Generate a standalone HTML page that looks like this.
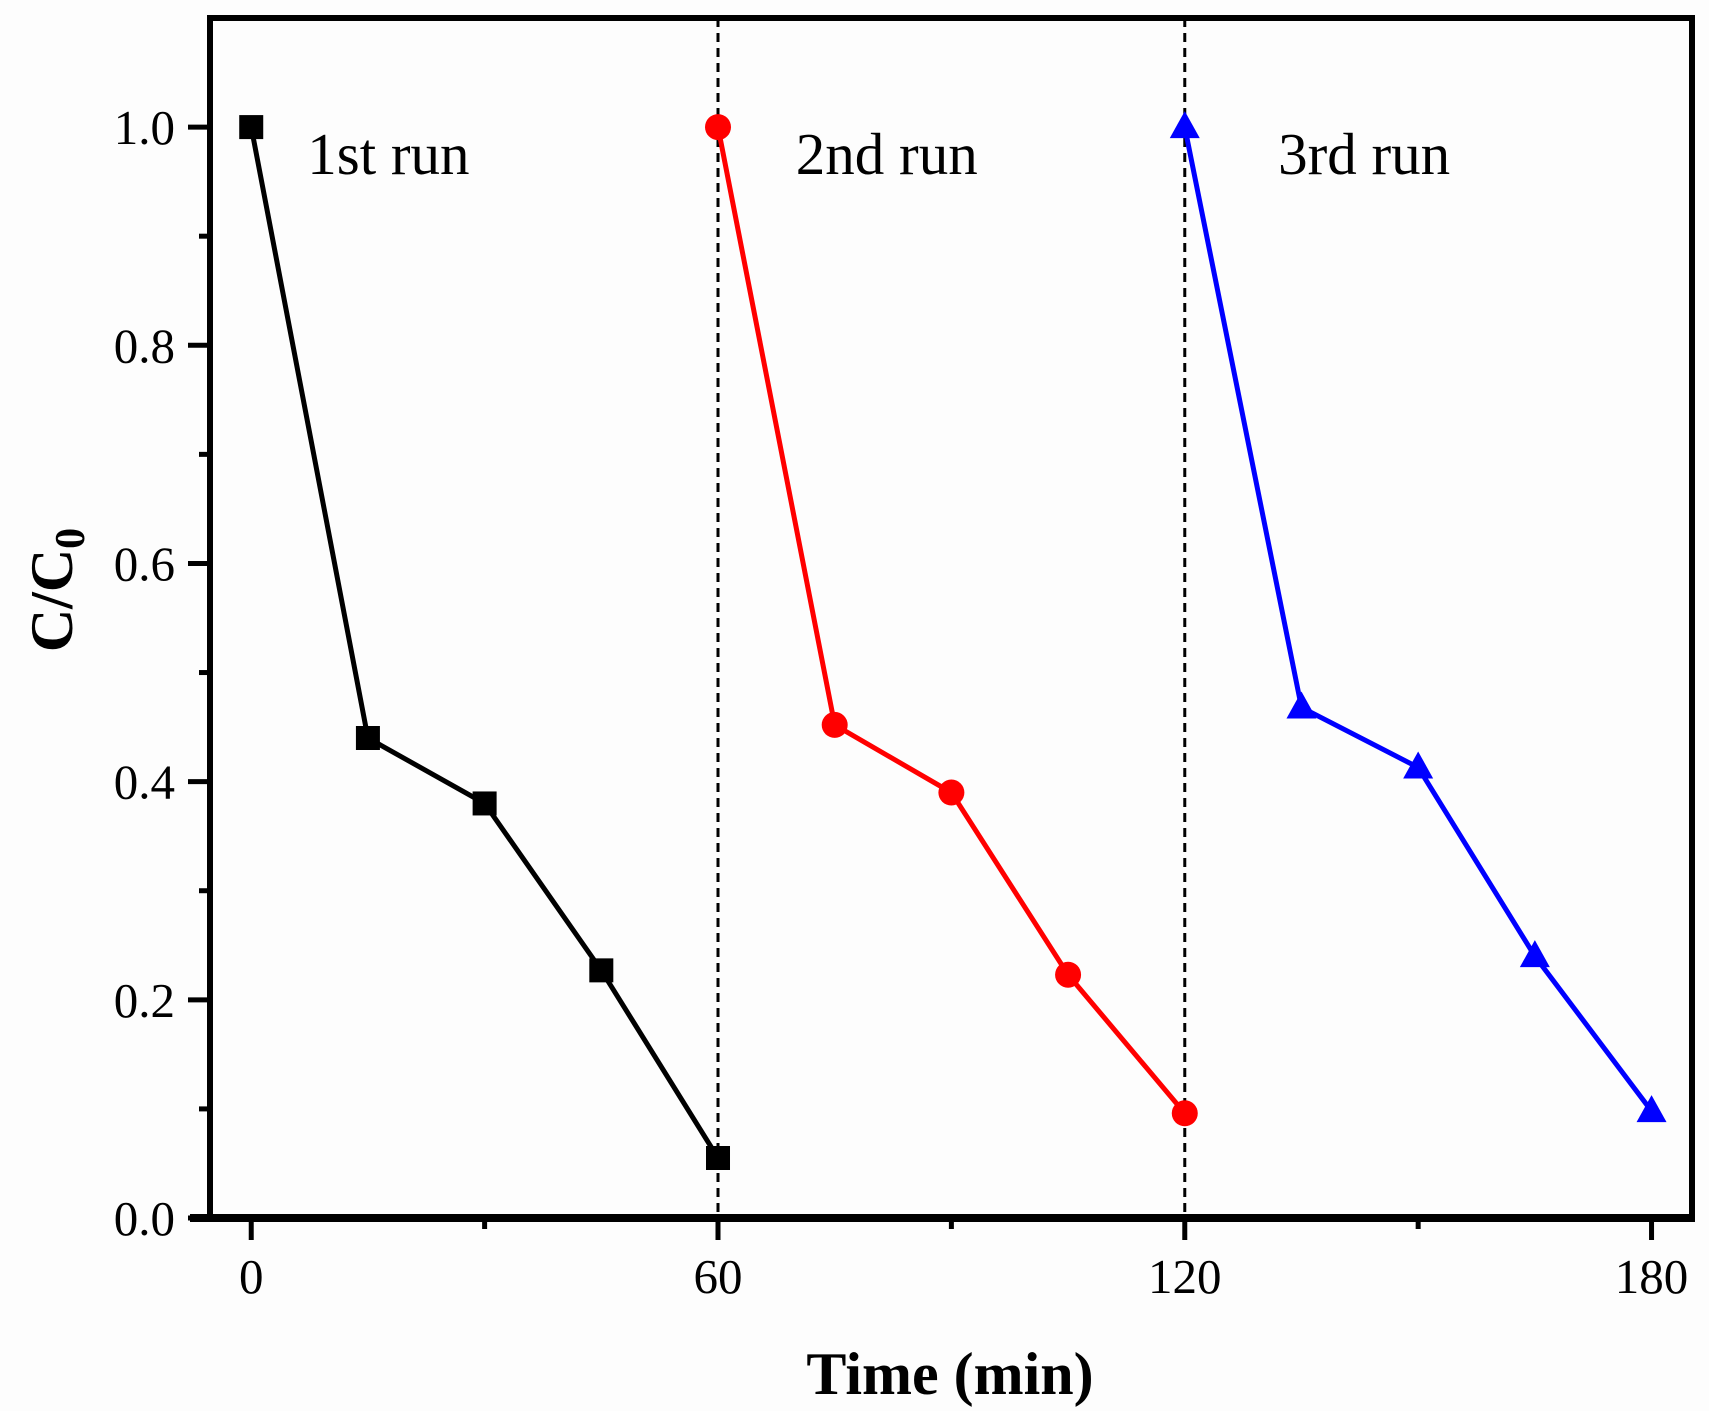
<!DOCTYPE html>
<html><head><meta charset="utf-8"><style>
html,body{margin:0;padding:0;background:#fdfdfd;}
svg{display:block;font-family:"Liberation Serif",serif;}
</style></head><body>
<svg id="chart" width="1709" height="1411" viewBox="0 0 1709 1411" xmlns="http://www.w3.org/2000/svg">
<rect x="0" y="0" width="1709" height="1411" fill="#fdfdfd"/>
<g id="plot"></g>
<text x="950" y="1394" font-size="60" font-weight="bold" text-anchor="middle">Time (min)</text>
<text transform="translate(72,590) rotate(-90)" font-size="60" font-weight="bold" text-anchor="middle">C/C<tspan dy="12" font-size="42">0</tspan></text>
</svg>
<script>
const xTicks = [0, 60, 120, 180];
const yTicks = [0.0, 0.2, 0.4, 0.6, 0.8, 1.0];
const yTickLabels = ["0.0", "0.2", "0.4", "0.6", "0.8", "1.0"];
const run1X = [0, 15, 30, 45, 60];
const run1Y = [1.0, 0.44, 0.38, 0.227, 0.055];
const run2X = [60, 75, 90, 105, 120];
const run2Y = [1.0, 0.452, 0.39, 0.223, 0.096];
const run3X = [120, 135, 150, 165, 180];
const run3Y = [1.0, 0.468, 0.413, 0.24, 0.098];
const runLabels = ["1st run", "2nd run", "3rd run"];
const runLabelX = [7.2, 70, 132];
const dividers = [60, 120];

const NS = "http://www.w3.org/2000/svg";
const L = 210, R = 1692, T = 18, B = 1218;
const xMin = -5.3, xMax = 185.2, yMin = 0, yMax = 1.1;
const sx = v => L + (v - xMin) / (xMax - xMin) * (R - L);
const sy = v => B - (v - yMin) / (yMax - yMin) * (B - T);
const g = document.getElementById('plot');
function mk(tag, attrs) {
  const e = document.createElementNS(NS, tag);
  for (const k in attrs) e.setAttribute(k, attrs[k]);
  g.appendChild(e);
  return e;
}
dividers.forEach(d => {
  const e = mk('line', {x1: sx(d), x2: sx(d), y1: T, y2: B, stroke: '#000', 'stroke-width': 3, 'stroke-dasharray': '9,6'});
  
  
});
const fr = mk('rect', {x: L, y: T, width: R - L, height: B - T, fill: 'none', stroke: '#000', 'stroke-width': 6});


const xa = mk('line', {x1: L - 20, x2: R + 3, y1: B, y2: B, stroke: '#000', 'stroke-width': 8});


for (let v = 0; v <= 180; v += 30) {
  const major = xTicks.includes(v);
  const t = mk('line', {x1: sx(v), x2: sx(v), y1: B, y2: B + (major ? 22 : 11), stroke: '#000', 'stroke-width': 5});
  
  
}
xTicks.forEach(v => {
  const t = mk('text', {x: sx(v), y: 1293, 'font-size': 49, 'text-anchor': 'middle'});
  t.textContent = v;
  
  
});
for (let i = 0; i <= 10; i++) {
  const v = i / 10;
  const major = i % 2 === 0;
  const t = mk('line', {x1: L - (major ? 22 : 11), x2: L, y1: sy(v), y2: sy(v), stroke: '#000', 'stroke-width': 5});
  
  
}
yTicks.forEach((v, i) => {
  const t = mk('text', {x: 175, y: sy(v) + 17, 'font-size': 49, 'text-anchor': 'end'});
  t.textContent = yTickLabels[i];
  
  
});
const series = [[run1X, run1Y, '#000', 'square'], [run2X, run2Y, '#ff0000', 'circle'], [run3X, run3Y, '#0000ff', 'triangle']];
series.forEach((s, si) => {
  const [xs, ys, col, shape] = s;
  const pl = mk('polyline', {points: xs.map((x, i) => sx(x) + ',' + sy(ys[i])).join(' '), fill: 'none', stroke: col, 'stroke-width': 5});
  
  
  xs.forEach((x, i) => {
    const cx = sx(x), cy = sy(ys[i]);
    let m;
    if (shape === 'square') m = mk('rect', {x: cx - 12, y: cy - 12, width: 24, height: 24, fill: col});
    else if (shape === 'circle') m = mk('circle', {cx: cx, cy: cy, r: 13, fill: col});
    else m = mk('polygon', {points: `${cx},${cy - 16} ${cx - 15},${cy + 11} ${cx + 15},${cy + 11}`, fill: col});
    
    
  });
});
runLabels.forEach((lab, i) => {
  const t = mk('text', {x: sx(runLabelX[i]), y: 174, 'font-size': 59, 'text-anchor': 'start'});
  t.textContent = lab;
  
  
});
</script>
</body></html>
